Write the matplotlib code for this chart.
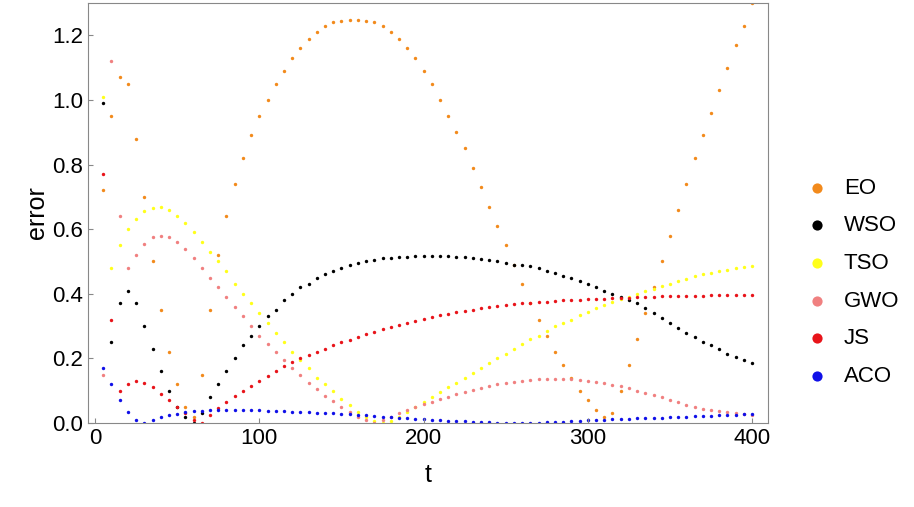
import numpy as np
import matplotlib.pyplot as plt

plt.rcParams['font.family'] = 'Liberation Sans'

t = np.arange(5, 405, 5)

eo = [0.72, 0.95, 1.07, 1.05, 0.88, 0.7, 0.5, 0.35, 0.22, 0.12, 0.05, 0.02, 0.15, 0.35, 0.52, 0.64,
      0.74, 0.82, 0.89, 0.95, 1.0, 1.05, 1.09, 1.13, 1.16, 1.19, 1.21, 1.23, 1.24, 1.245, 1.248, 1.248,
      1.245, 1.24, 1.23, 1.21, 1.19, 1.16, 1.13, 1.09, 1.05, 1.0, 0.95, 0.9, 0.85, 0.79, 0.73, 0.67,
      0.61, 0.55, 0.49, 0.43, 0.37, 0.32, 0.27, 0.22, 0.18, 0.14, 0.1, 0.07, 0.04, 0.02, 0.03, 0.1,
      0.18, 0.26, 0.34, 0.42, 0.5, 0.58, 0.66, 0.74, 0.82, 0.89, 0.96, 1.03, 1.1, 1.17, 1.23, 1.3]
wso = [0.99, 0.25, 0.37, 0.41, 0.37, 0.3, 0.23, 0.16, 0.1, 0.05, 0.02, 0.0, 0.03, 0.08, 0.12, 0.16,
       0.2, 0.24, 0.27, 0.3, 0.33, 0.35, 0.38, 0.4, 0.42, 0.43, 0.45, 0.46, 0.47, 0.48, 0.49, 0.495,
       0.5, 0.505, 0.51, 0.512, 0.514, 0.515, 0.516, 0.517, 0.517, 0.517, 0.516, 0.515, 0.513, 0.51,
       0.507, 0.503, 0.5, 0.495, 0.49, 0.49, 0.485, 0.48, 0.47, 0.465, 0.455, 0.45, 0.44, 0.43, 0.42,
       0.41, 0.4, 0.39, 0.38, 0.37, 0.355, 0.34, 0.325, 0.31, 0.295, 0.28, 0.265, 0.25, 0.24, 0.23,
       0.215, 0.205, 0.195, 0.185]
tso = [1.01, 0.48, 0.55, 0.6, 0.63, 0.655, 0.665, 0.67, 0.66, 0.64, 0.62, 0.59, 0.56, 0.53, 0.5,
       0.47, 0.43, 0.4, 0.37, 0.34, 0.31, 0.28, 0.25, 0.22, 0.195, 0.17, 0.14, 0.12, 0.1, 0.075,
       0.055, 0.035, 0.02, 0.005, 0.0, 0.005, 0.02, 0.035, 0.05, 0.065, 0.08, 0.095, 0.11, 0.125,
       0.14, 0.155, 0.17, 0.185, 0.2, 0.215, 0.23, 0.245, 0.26, 0.27, 0.285, 0.3, 0.31, 0.32, 0.335,
       0.345, 0.355, 0.365, 0.375, 0.385, 0.39, 0.4, 0.41, 0.415, 0.425, 0.43, 0.44, 0.445, 0.455,
       0.46, 0.465, 0.47, 0.475, 0.48, 0.483, 0.487]
gwo = [0.15, 1.12, 0.64, 0.48, 0.52, 0.555, 0.575, 0.58, 0.575, 0.56, 0.54, 0.51, 0.48, 0.45, 0.42,
       0.39, 0.36, 0.33, 0.3, 0.27, 0.245, 0.22, 0.195, 0.17, 0.15, 0.125, 0.105, 0.085, 0.068, 0.05,
       0.035, 0.02, 0.01, 0.0, 0.01, 0.02, 0.03, 0.04, 0.05, 0.058, 0.066, 0.074, 0.082, 0.09, 0.097,
       0.103, 0.109, 0.115, 0.12, 0.124, 0.128, 0.131, 0.133, 0.135, 0.136, 0.136, 0.136, 0.135,
       0.133, 0.13, 0.127, 0.123, 0.118, 0.113, 0.107, 0.1, 0.093, 0.086, 0.079, 0.071, 0.064, 0.057,
       0.05, 0.044, 0.04, 0.036, 0.033, 0.03, 0.028, 0.026]
js = [0.77, 0.32, 0.1, 0.12, 0.13, 0.125, 0.11, 0.09, 0.07, 0.05, 0.03, 0.01, 0.0, 0.025, 0.045,
      0.065, 0.085, 0.1, 0.115, 0.13, 0.145, 0.16, 0.175, 0.19, 0.2, 0.21, 0.22, 0.23, 0.24, 0.25,
      0.258, 0.266, 0.274, 0.282, 0.29, 0.297, 0.304, 0.31, 0.316, 0.322, 0.328, 0.333, 0.338, 0.343,
      0.347, 0.351, 0.355, 0.358, 0.361, 0.364, 0.367, 0.37, 0.372, 0.374, 0.376, 0.378, 0.38, 0.381,
      0.382, 0.383, 0.384, 0.385, 0.386, 0.387, 0.388, 0.389, 0.39, 0.391, 0.392, 0.392, 0.393,
      0.393, 0.394, 0.394, 0.395, 0.395, 0.396, 0.396, 0.397, 0.397]
aco = [0.17, 0.12, 0.07, 0.035, 0.01, 0.0, 0.01, 0.018, 0.024, 0.029, 0.033, 0.036, 0.038, 0.039,
       0.04, 0.04, 0.04, 0.04, 0.039, 0.039, 0.038, 0.037, 0.036, 0.035, 0.034, 0.033, 0.032, 0.031,
       0.03, 0.029, 0.027, 0.026, 0.024, 0.022, 0.02, 0.018, 0.016, 0.014, 0.012, 0.011, 0.01, 0.008,
       0.007, 0.006, 0.005, 0.004, 0.003, 0.002, 0.001, 0.0, 0.0, 0.0, 0.0, 0.001, 0.002, 0.003, 0.004,
       0.005, 0.006, 0.008, 0.009, 0.01, 0.011, 0.012, 0.013, 0.014, 0.015, 0.016, 0.017, 0.018,
       0.019, 0.02, 0.021, 0.022, 0.023, 0.024, 0.025, 0.026, 0.027, 0.028]

names = ['EO', 'WSO', 'TSO', 'GWO', 'JS', 'ACO']
series = [eo, wso, tso, gwo, js, aco]
colors = ['#f28a1c', '#000000', '#ffff1a', '#f08080', '#e8141a', '#1010e8']

fig = plt.figure(figsize=(9.14, 5.07), dpi=100)
ax = fig.add_axes([88 / 914, 84 / 507, 680 / 914, 420 / 507])

for name, vals, c in zip(names, series, colors):
    ax.scatter(t, vals, s=6, color=c, label=name, linewidths=0)

ax.set_xlim(-4.3, 409.7)
ax.set_ylim(0, 1.3)
ax.set_xticks([0, 100, 200, 300, 400])
ax.set_yticks(np.arange(0, 1.21, 0.2))
ax.set_yticklabels(['0.0', '0.2', '0.4', '0.6', '0.8', '1.0', '1.2'])
ax.tick_params(labelsize=16, direction='in', color='#888888')
ax.set_xlabel('t', fontsize=18, labelpad=10)
ax.set_ylabel('error', fontsize=18, labelpad=2)
for s in ax.spines.values():
    s.set_color('#888888')

leg = ax.legend(loc='center left', bbox_to_anchor=(1.01, 0.335), frameon=False,
                fontsize=16, markerscale=3, handletextpad=0.2, labelspacing=0.75)

fig.savefig('out.png', dpi=100)
